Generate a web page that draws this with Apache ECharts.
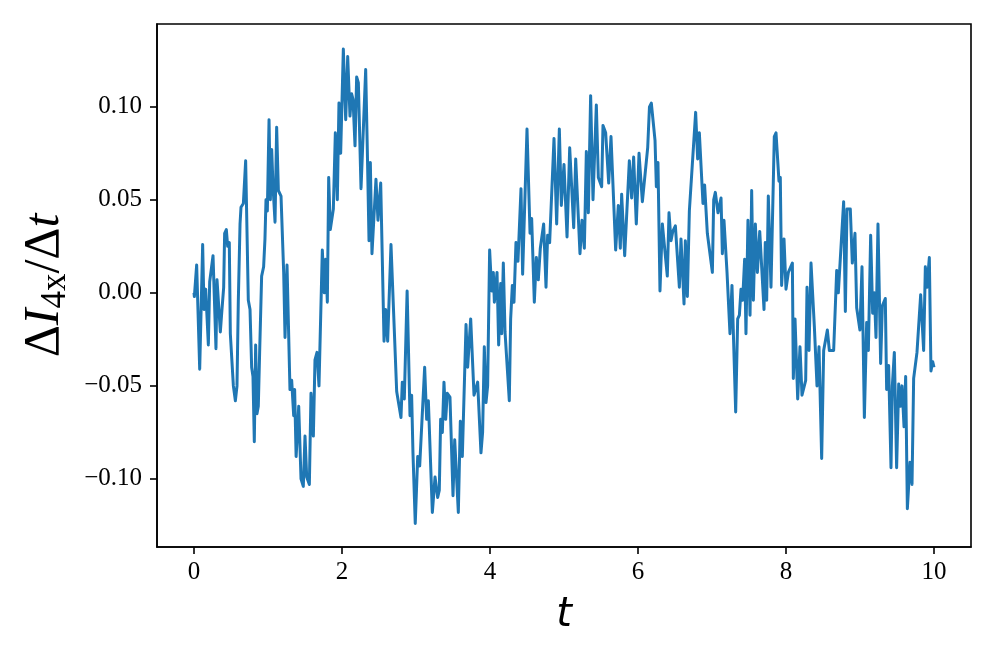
<!DOCTYPE html>
<html>
<head>
<meta charset="utf-8">
<script src="https://cdn.jsdelivr.net/npm/echarts@6/dist/echarts.min.js"></script>
<style>
  html, body { margin: 0; padding: 0; background: #fff; }
  #chart { width: 996px; height: 664px; }
</style>
</head>
<body>
<div id="chart"></div>
<script>
// time samples (vertices)
const tPoints = [
  0.000, 0.005, 0.036, 0.077, 0.117, 0.135, 0.158, 0.194, 0.212, 0.230,
  0.257, 0.297, 0.311, 0.333, 0.356, 0.374, 0.401, 0.414, 0.437, 0.455,
  0.477, 0.491, 0.532, 0.559, 0.581, 0.599, 0.622, 0.635, 0.667, 0.698,
  0.734, 0.757, 0.779, 0.797, 0.815, 0.833, 0.851, 0.869, 0.887, 0.914,
  0.941, 0.959, 0.973, 0.991, 1.014, 1.032, 1.050, 1.068, 1.095, 1.117,
  1.140, 1.176, 1.212, 1.230, 1.257, 1.297, 1.320, 1.347, 1.360, 1.380,
  1.415, 1.446, 1.477, 1.500, 1.523, 1.559, 1.581, 1.613, 1.635, 1.662,
  1.689, 1.734, 1.761, 1.779, 1.802, 1.820, 1.842, 1.883, 1.910, 1.937,
  1.959, 1.982, 2.018, 2.050, 2.077, 2.108, 2.130, 2.149, 2.176, 2.198,
  2.221, 2.257, 2.320, 2.342, 2.365, 2.383, 2.405, 2.459, 2.486, 2.523,
  2.568, 2.590, 2.617, 2.662, 2.739, 2.797, 2.815, 2.842, 2.880, 2.919,
  2.941, 2.959, 2.990, 3.023, 3.050, 3.117, 3.144, 3.167, 3.221, 3.257,
  3.293, 3.315, 3.333, 3.356, 3.378, 3.401, 3.423, 3.459, 3.500, 3.523,
  3.572, 3.599, 3.626, 3.676, 3.698, 3.739, 3.784, 3.806, 3.833, 3.878,
  3.900, 3.923, 3.946, 3.968, 3.995, 4.023, 4.045, 4.059, 4.095, 4.117,
  4.144, 4.158, 4.180, 4.203, 4.261, 4.279, 4.302, 4.324, 4.351, 4.378,
  4.419, 4.441, 4.500, 4.541, 4.563, 4.599, 4.626, 4.653, 4.680, 4.725,
  4.757, 4.779, 4.806, 4.865, 4.901, 4.937, 4.964, 5.000, 5.041, 5.077,
  5.131, 5.158, 5.216, 5.243, 5.275, 5.302, 5.329, 5.360, 5.392, 5.437,
  5.464, 5.509, 5.527, 5.563, 5.604, 5.635, 5.698, 5.734, 5.761, 5.779,
  5.820, 5.883, 5.914, 5.941, 5.977, 6.014, 6.059, 6.131, 6.155, 6.180,
  6.210, 6.230, 6.248, 6.270, 6.297, 6.329, 6.356, 6.396, 6.419, 6.446,
  6.470, 6.505, 6.559, 6.581, 6.622, 6.640, 6.667, 6.694, 6.721, 6.779,
  6.806, 6.829, 6.878, 6.900, 6.937, 7.005, 7.023, 7.045, 7.081, 7.122,
  7.140, 7.162, 7.203, 7.243, 7.270, 7.320, 7.347, 7.370, 7.392, 7.414,
  7.441, 7.459, 7.486, 7.514, 7.536, 7.559, 7.586, 7.613, 7.645, 7.703,
  7.720, 7.739, 7.761, 7.797, 7.842, 7.865, 7.905, 7.923, 7.941, 7.973,
  8.000, 8.032, 8.086, 8.099, 8.122, 8.158, 8.189, 8.216, 8.266, 8.284,
  8.311, 8.338, 8.383, 8.419, 8.446, 8.482, 8.509, 8.559, 8.586, 8.644,
  8.685, 8.707, 8.779, 8.802, 8.824, 8.869, 8.896, 8.932, 8.955, 8.999,
  9.027, 9.059, 9.090, 9.113, 9.144, 9.171, 9.194, 9.216, 9.243, 9.279,
  9.302, 9.342, 9.360, 9.387, 9.419, 9.437, 9.464, 9.495, 9.523, 9.545,
  9.568, 9.595, 9.617, 9.640, 9.655, 9.676, 9.703, 9.725, 9.770, 9.820,
  9.860, 9.883, 9.905, 9.937, 9.959, 9.982, 10.000
];

// dI_4x/dt at each sample
const dIdtPoints = [
  0.000, -0.002, 0.015, -0.041, 0.026, -0.009, 0.002, -0.028, 0.006, 0.007,
  0.020, -0.030, 0.007, 0.006, -0.021, -0.011, 0.003, 0.032, 0.034, 0.025,
  0.027, -0.022, -0.050, -0.058, -0.050, -0.004, 0.037, 0.046, 0.048, 0.071,
  -0.004, -0.009, -0.040, -0.045, -0.080, -0.028, -0.065, -0.061, -0.032, 0.009,
  0.014, 0.029, 0.050, 0.044, 0.093, 0.050, 0.077, 0.057, 0.038, 0.089,
  0.055, 0.052, 0.011, -0.024, 0.015, -0.052, -0.047, -0.066, -0.052, -0.088,
  -0.061, -0.100, -0.104, -0.077, -0.099, -0.103, -0.054, -0.077, -0.036, -0.032,
  -0.050, 0.023, 0.000, 0.018, -0.005, 0.062, 0.034, 0.045, 0.086, 0.050,
  0.102, 0.075, 0.131, 0.093, 0.127, 0.095, 0.107, 0.104, 0.079, 0.116,
  0.113, 0.056, 0.120, 0.077, 0.028, 0.070, 0.021, 0.061, 0.039, 0.059,
  -0.026, -0.009, -0.026, 0.026, -0.053, -0.067, -0.048, -0.057, 0.001, -0.066,
  -0.055, -0.086, -0.124, -0.088, -0.093, -0.040, -0.068, -0.058, -0.118, -0.099,
  -0.110, -0.106, -0.068, -0.075, -0.048, -0.068, -0.054, -0.056, -0.109, -0.079,
  -0.118, -0.069, -0.088, -0.017, -0.040, -0.014, -0.055, -0.056, -0.048, -0.086,
  -0.075, -0.029, -0.059, -0.050, 0.023, 0.001, 0.011, -0.005, 0.011, -0.028,
  0.005, -0.022, 0.016, -0.021, -0.058, -0.014, 0.004, -0.005, 0.027, 0.017,
  0.056, 0.010, 0.088, 0.032, 0.040, -0.005, 0.019, 0.007, 0.024, 0.037,
  0.003, 0.031, 0.027, 0.083, 0.037, 0.088, 0.047, 0.069, 0.030, 0.078,
  0.035, 0.072, 0.021, 0.039, 0.024, 0.076, 0.043, 0.106, 0.050, 0.101,
  0.062, 0.057, 0.090, 0.086, 0.059, 0.084, 0.023, 0.047, 0.024, 0.053,
  0.020, 0.071, 0.051, 0.073, 0.037, 0.075, 0.049, 0.078, 0.100, 0.102,
  0.090, 0.082, 0.057, 0.070, 0.001, 0.037, 0.036, 0.009, 0.043, 0.028,
  0.033, 0.036, 0.003, 0.029, -0.006, 0.028, -0.002, 0.044, 0.045, 0.097,
  0.072, 0.086, 0.048, 0.058, 0.032, 0.011, 0.050, 0.054, 0.043, 0.051,
  0.021, 0.039, 0.011, -0.022, 0.004, -0.064, -0.014, -0.012, 0.002, -0.004,
  0.018, -0.022, 0.039, -0.012, 0.055, -0.004, 0.037, 0.011, 0.033, -0.009,
  0.027, -0.004, 0.052, 0.003, 0.084, 0.086, 0.060, 0.062, 0.004, 0.029,
  0.002, 0.011, 0.016, -0.046, -0.014, -0.057, -0.029, -0.055, -0.047, 0.003,
  -0.031, 0.016, -0.018, -0.050, -0.029, -0.089, -0.031, -0.020, -0.031, -0.031,
  0.012, 0.000, 0.049, -0.010, 0.045, 0.045, 0.016, 0.032, -0.008, -0.020,
  0.014, -0.067, -0.016, -0.031, 0.031, -0.011, 0.000, -0.024, 0.037, -0.038,
  -0.007, -0.003, -0.052, -0.039, -0.094, -0.050, -0.032, -0.094, -0.049, -0.061,
  -0.050, -0.072, -0.045, -0.116, -0.117, -0.091, -0.103, -0.046, -0.032, -0.001,
  -0.031, 0.014, 0.003, 0.019, -0.042, -0.037, -0.040
];

const xTicks = [0, 2, 4, 6, 8, 10];
const yTicks = [-0.10, -0.05, 0.00, 0.05, 0.10];

const seriesData = tPoints.map(function (t, i) { return [t, dIdtPoints[i]]; });

const chart = echarts.init(document.getElementById('chart'), null, { renderer: 'canvas' });

const tickFont = "'Liberation Serif'";
const mathSerif = "'Liberation Serif'";

const option = {
  animation: false,
  backgroundColor: '#fff',
  grid: {
    left: 157, right: 25, top: 24, bottom: 117,
    show: true, borderColor: '#000', borderWidth: 1.6, backgroundColor: 'transparent'
  },
  xAxis: {
    type: 'value',
    min: -0.5, max: 10.5,
    name: 't',
    nameLocation: 'middle',
    nameGap: 49,
    nameTextStyle: { fontFamily: 'DejaVu Sans', fontStyle: 'italic', fontSize: 40, color: '#000' },
    axisLine: { show: true, onZero: false, lineStyle: { color: '#000', width: 1.6 } },
    axisTick: { show: true, customValues: xTicks, length: 7, lineStyle: { color: '#000', width: 1.6 } },
    axisLabel: {
      customValues: xTicks, margin: 13, fontFamily: tickFont, fontSize: 25, color: '#000',
      formatter: function (v) { return String(v); }
    },
    splitLine: { show: false }
  },
  yAxis: {
    type: 'value',
    min: -0.1366, max: 0.1445,
    name: '{d|Δ}{i|I}{s|4x}{d|/Δ}{i|t}',
    nameLocation: 'middle',
    nameRotate: 90,
    nameGap: 83,
    nameTextStyle: {
      color: '#000',
      rich: {
        d: { fontFamily: mathSerif, fontSize: 50, lineHeight: 56, verticalAlign: 'middle', color: '#000' },
        i: { fontFamily: mathSerif, fontStyle: 'italic', fontSize: 50, lineHeight: 56, verticalAlign: 'middle', color: '#000' },
        s: { fontFamily: mathSerif, fontSize: 35, lineHeight: 30, verticalAlign: 'bottom', color: '#000' }
      }
    },
    axisLine: { show: true, onZero: false, lineStyle: { color: '#000', width: 1.6 } },
    axisTick: { show: true, customValues: yTicks, length: 7, lineStyle: { color: '#000', width: 1.6 } },
    axisLabel: {
      customValues: yTicks, margin: 15, fontFamily: tickFont, fontSize: 25, color: '#000',
      formatter: function (v) { return v.toFixed(2).replace('-', '\u2212'); }
    },
    splitLine: { show: false }
  },
  series: [{
    type: 'line',
    data: seriesData,
    showSymbol: false,
    lineStyle: { color: '#1f77b4', width: 3, join: 'round' },
    clip: true
  }]
};

chart.setOption(option);
</script>
</body>
</html>
